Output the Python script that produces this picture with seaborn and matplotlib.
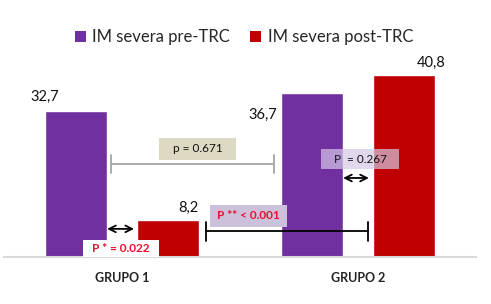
import matplotlib
matplotlib.use("Agg")
import matplotlib.pyplot as plt
from matplotlib.patches import Patch, Rectangle
import seaborn as sns
import pandas as pd

# ---- data ----
grupos = ["GRUPO 1", "GRUPO 2"]
series = ["IM severa pre-TRC", "IM severa post-TRC"]
pre_trc = [32.7, 36.7]
post_trc = [8.2, 40.8]
labels_pre = ["32,7", "36,7"]
labels_post = ["8,2", "40,8"]
colors = ["#7030A0", "#C00000"]

df = pd.DataFrame({
    "grupo": grupos * 2,
    "serie": [series[0]] * 2 + [series[1]] * 2,
    "valor": pre_trc + post_trc,
})

sns.set_theme(style="white")
FONT = ["Lato", "DejaVu Sans"]
plt.rcParams["font.family"] = FONT

fig = plt.figure(figsize=(4.91, 3.04), dpi=100)
ax = fig.add_axes([4 / 491, 47 / 304, 472 / 491, 237 / 304])

sns.barplot(data=df, x="grupo", y="valor", hue="serie", order=grupos,
            hue_order=series, palette=colors, width=0.78, gap=0.335,
            saturation=1, legend=False, ax=ax)

ax.set_xlim(-0.5, 1.5)
ax.set_ylim(0, 53.1)
ax.set_xlabel("")
ax.set_ylabel("")
ax.set_yticks([])
ax.set_xticks([0, 1])
ax.set_xticklabels(grupos, fontsize=9, fontweight="bold", color="#222222")
ax.tick_params(axis="x", length=0, pad=11)
for s in ["top", "right", "left"]:
    ax.spines[s].set_visible(False)
ax.spines["bottom"].set_color("#d9d9d9")
ax.spines["bottom"].set_linewidth(1.5)

# bar value labels (offsets relative to each bar)
bars = ax.patches
pre_bars = bars[0:2]
post_bars = bars[2:4]
offs_pre = [(-0.133, 3.2), (-0.21, -4.9)]
offs_post = [(0.087, 2.8), (0.116, 2.7)]
for b, lab, (dx, dy) in zip(pre_bars, labels_pre, offs_pre):
    cx = b.get_x() + b.get_width() / 2
    ax.text(cx + dx, b.get_height() + dy, lab, ha="center", va="center",
            fontsize=10.5, color="#111111")
for b, lab, (dx, dy) in zip(post_bars, labels_post, offs_post):
    cx = b.get_x() + b.get_width() / 2
    ax.text(cx + dx, b.get_height() + dy, lab, ha="center", va="center",
            fontsize=10.5, color="#111111")


def label_box(x0, x1, y0, y1, text, fc, tcolor, bold=False, alpha=1.0):
    ax.add_patch(Rectangle((x0, y0), x1 - x0, y1 - y0, facecolor=fc,
                           edgecolor="none", alpha=alpha, zorder=4))
    ax.text((x0 + x1) / 2, (y0 + y1) / 2, text, ha="center", va="center",
            fontsize=8.5, color=tcolor, zorder=5,
            fontweight="bold" if bold else "normal")


# gray comparison line p = 0.671
ax.plot([-0.045, 0.646], [20.85, 20.85], color="#a6a6a6", lw=1.3)
ax.plot([-0.045, -0.045], [18.9, 22.8], color="#a6a6a6", lw=1.3)
ax.plot([0.646, 0.646], [18.9, 22.8], color="#a6a6a6", lw=1.3)
label_box(0.155, 0.485, 21.75, 26.7, "p = 0.671", "#DDD9C3", "#111111")

# black comparison line P ** < 0.001
ax.plot([0.358, 1.044], [5.83, 5.83], color="black", lw=1.3)
ax.plot([0.358, 0.358], [3.6, 7.9], color="black", lw=1.3)
ax.plot([1.044, 1.044], [3.6, 7.9], color="black", lw=1.3)
label_box(0.371, 0.701, 6.8, 11.7, "P ** < 0.001", "#CCC0DA", "#E8112D",
          bold=True)

# G1 double arrow + P * = 0.022
ax.annotate("", xy=(-0.063, 6.3), xytext=(0.051, 6.3),
            arrowprops=dict(arrowstyle="<->", color="black", lw=1.3,
                            shrinkA=0, shrinkB=0))
label_box(-0.167, 0.155, 0.0, 3.9, "P * = 0.022", "white", "#E8112D",
          bold=True)

# G2 double arrow + P = 0.267
ax.annotate("", xy=(0.937, 17.7), xytext=(1.046, 17.7),
            arrowprops=dict(arrowstyle="<->", color="black", lw=1.3,
                            shrinkA=0, shrinkB=0))
label_box(0.845, 1.172, 19.7, 24.2, "P  = 0.267", "#D5C8E6", "#111111",
          alpha=0.7)

handles = [Patch(facecolor=c, edgecolor="none") for c in colors]
fig.legend(handles, series, loc="center", bbox_to_anchor=(0.497, 0.878),
           ncol=2, frameon=False, fontsize=12, handlelength=0.65,
           handleheight=0.65, handletextpad=0.4, columnspacing=1.2)

fig.savefig("out.png", dpi=100)
